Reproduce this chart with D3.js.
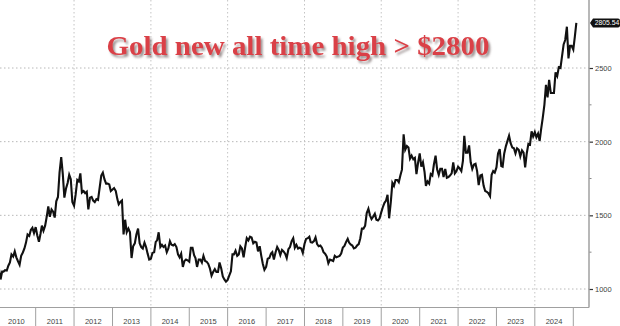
<!DOCTYPE html>
<html>
<head>
<meta charset="utf-8">
<script src="https://cdn.jsdelivr.net/npm/d3@7"></script>
<style>
  html, body { margin: 0; padding: 0; background: #fff; }
  #chart { width: 620px; height: 326px; }
</style>
</head>
<body>
<div id="chart"></div>
<script>
// Gold spot, USD/oz - one value on the 1st and the 16th of each month
const prices2010 = [1096, 1138, 1065, 1118, 1118, 1128, 1125, 1158, 1180, 1235, 1220, 1255, 1215, 1190, 1165, 1225, 1248, 1275, 1315, 1370, 1360, 1400, 1415, 1380];
const prices2011 = [1420, 1365, 1320, 1375, 1430, 1395, 1430, 1490, 1560, 1490, 1540, 1525, 1485, 1595, 1625, 1790, 1895, 1780, 1620, 1680, 1720, 1775, 1745, 1590];
const prices2012 = [1565, 1640, 1740, 1730, 1785, 1655, 1665, 1650, 1660, 1540, 1620, 1625, 1600, 1590, 1610, 1605, 1690, 1770, 1790, 1745, 1715, 1715, 1710, 1665];
const prices2013 = [1675, 1685, 1665, 1610, 1575, 1590, 1600, 1370, 1470, 1385, 1410, 1385, 1210, 1290, 1310, 1370, 1410, 1310, 1285, 1275, 1315, 1285, 1240, 1200];
const prices2014 = [1205, 1245, 1250, 1320, 1330, 1385, 1285, 1300, 1285, 1295, 1250, 1275, 1325, 1300, 1295, 1305, 1285, 1235, 1215, 1240, 1150, 1190, 1200, 1195];
const prices2015 = [1185, 1280, 1280, 1230, 1210, 1150, 1200, 1200, 1180, 1225, 1190, 1185, 1170, 1140, 1090, 1115, 1135, 1115, 1115, 1180, 1140, 1085, 1065, 1050];
const prices2016 = [1062, 1090, 1120, 1235, 1235, 1260, 1225, 1235, 1290, 1275, 1215, 1285, 1345, 1330, 1355, 1350, 1310, 1320, 1315, 1255, 1290, 1225, 1170, 1130];
const prices2017 = [1150, 1205, 1210, 1240, 1250, 1200, 1250, 1285, 1265, 1230, 1265, 1255, 1240, 1210, 1270, 1285, 1325, 1345, 1280, 1300, 1275, 1280, 1275, 1245];
const prices2018 = [1305, 1340, 1345, 1355, 1318, 1315, 1325, 1350, 1305, 1290, 1295, 1280, 1250, 1240, 1220, 1175, 1200, 1195, 1190, 1225, 1215, 1220, 1225, 1240];
const prices2019 = [1282, 1292, 1320, 1340, 1315, 1302, 1295, 1275, 1280, 1295, 1305, 1345, 1410, 1410, 1430, 1515, 1545, 1500, 1475, 1490, 1510, 1470, 1465, 1478];
const prices2020 = [1520, 1555, 1585, 1600, 1640, 1480, 1590, 1720, 1700, 1740, 1740, 1725, 1770, 1810, 2050, 1945, 1970, 1960, 1885, 1905, 1880, 1890, 1780, 1855];
const prices2021 = [1920, 1830, 1860, 1795, 1700, 1730, 1715, 1780, 1770, 1845, 1905, 1810, 1775, 1815, 1815, 1760, 1815, 1755, 1760, 1770, 1785, 1860, 1785, 1800];
const prices2022 = [1830, 1818, 1800, 1870, 2040, 1925, 1925, 1975, 1860, 1815, 1845, 1850, 1800, 1705, 1770, 1775, 1700, 1665, 1660, 1650, 1630, 1775, 1800, 1790];
const prices2023 = [1825, 1920, 1950, 1835, 1830, 1920, 1970, 2005, 2040, 1990, 1960, 1955, 1920, 1955, 1945, 1900, 1940, 1925, 1825, 1920, 1985, 1980, 2070, 2035];
const prices2024 = [2065, 2030, 2055, 2005, 2085, 2160, 2250, 2385, 2300, 2420, 2330, 2330, 2330, 2470, 2445, 2505, 2500, 2580, 2660, 2690, 2780, 2565, 2650, 2650];
const prices2025 = [2625, 2715];
const lastDate = '2025-01-30';
const lastPrice = 2805.54;

const years = [2010, 2011, 2012, 2013, 2014, 2015, 2016, 2017, 2018, 2019, 2020, 2021, 2022, 2023, 2024];
const yTicks = [1000, 1500, 2000, 2500];
const yMinorTicks = [1250, 1750, 2250];
const title = 'Gold new all time high > $2800';

const series = [prices2010, prices2011, prices2012, prices2013, prices2014, prices2015, prices2016,
  prices2017, prices2018, prices2019, prices2020, prices2021, prices2022, prices2023, prices2024, prices2025];

const data = [];
series.forEach((arr, k) => {
  arr.forEach((v, i) => {
    data.push({ date: new Date(2010 + k, Math.floor(i / 2), i % 2 ? 16 : 1), value: v });
  });
});
data.push({ date: d3.timeParse('%Y-%m-%d')(lastDate), value: lastPrice });

const width = 620;
const height = 326;
const plotRight = 589;
const plotBottom = 307.5;

const svg = d3.select('#chart')
  .append('svg')
  .attr('width', width)
  .attr('height', height)
  .style('font-family', '"Liberation Sans", Arial, sans-serif');

const defs = svg.append('defs');
const shadow = defs.append('filter').attr('id', 'shadow')
  .attr('x', '-5%').attr('y', '-30%').attr('width', '115%').attr('height', '170%');
shadow.append('feDropShadow')
  .attr('dx', 2).attr('dy', 2.5).attr('stdDeviation', 1.3)
  .attr('flood-color', '#6b5a5a').attr('flood-opacity', 0.65);

const x = d3.scaleTime()
  .domain([new Date(2010, 0, 1), new Date(2025, 0, 1)])
  .range([-2.7, 573.3]);

const y = d3.scaleLinear()
  .domain([1000, 2500])
  .range([289, 68]);

// Grid
const gridG = svg.append('g').attr('class', 'grid');
gridG.selectAll('line.h')
  .data(yTicks)
  .join('line')
  .attr('class', 'h')
  .attr('x1', 0).attr('x2', plotRight)
  .attr('y1', d => y(d)).attr('y2', d => y(d))
  .attr('stroke', '#b8b8b8').attr('stroke-width', 1)
  .attr('stroke-dasharray', '1.5,2.5');
gridG.selectAll('line.v')
  .data(years.filter(d => d % 2 === 0 && d > 2010))
  .join('line')
  .attr('class', 'v')
  .attr('x1', d => x(new Date(d, 0, 1))).attr('x2', d => x(new Date(d, 0, 1)))
  .attr('y1', 0).attr('y2', plotBottom)
  .attr('stroke', '#c4c4c4').attr('stroke-width', 1)
  .attr('stroke-dasharray', '1.5,2.5');

// Title
svg.append('text')
  .attr('x', 298)
  .attr('y', 55)
  .attr('text-anchor', 'middle')
  .attr('fill', '#da4147')
  .attr('filter', 'url(#shadow)')
  .style('font-family', '"Liberation Serif", "Times New Roman", serif')
  .style('font-weight', 'bold')
  .style('font-size', '28px')
  .attr('textLength', 383)
  .attr('lengthAdjust', 'spacingAndGlyphs')
  .text(title);

// Price line
const line = d3.line()
  .x(d => x(d.date))
  .y(d => y(d.value));

svg.append('path')
  .datum(data)
  .attr('d', line)
  .attr('fill', 'none')
  .attr('stroke', '#111')
  .attr('stroke-width', 2.1)
  .attr('stroke-linejoin', 'miter');

// Right axis
const yAxis = d3.axisRight(y)
  .tickValues(yTicks)
  .tickSize(4)
  .tickPadding(2)
  .tickFormat(d3.format('d'));

const yAxisG = svg.append('g')
  .attr('transform', `translate(${plotRight},0)`)
  .call(yAxis);
yAxisG.select('.domain').remove();
yAxisG.selectAll('.tick line').attr('stroke', '#333').attr('stroke-width', 1.2);
yAxisG.selectAll('.tick text')
  .attr('fill', '#444')
  .style('font-size', '7.5px');

yAxisG.selectAll('line.minor')
  .data(yMinorTicks)
  .join('line')
  .attr('class', 'minor')
  .attr('x1', 0).attr('x2', 2.5)
  .attr('y1', d => y(d)).attr('y2', d => y(d))
  .attr('stroke', '#888');

svg.append('line')
  .attr('x1', plotRight).attr('x2', plotRight)
  .attr('y1', 0).attr('y2', plotBottom)
  .attr('stroke', '#a0a0a0').attr('stroke-width', 1.5);

// Last value tag
const lastY = y(lastPrice);
const tag = svg.append('g').attr('transform', `translate(${plotRight + 1},${lastY})`);
tag.append('path')
  .attr('d', 'M0,0 L3,-4.5 L28,-4.5 Q30,-4.5 30,-2.5 L30,2.5 Q30,4.5 28,4.5 L3,4.5 Z')
  .attr('fill', '#111');
tag.append('text')
  .attr('x', 17)
  .attr('y', 2.4)
  .attr('text-anchor', 'middle')
  .attr('fill', '#fff')
  .style('font-size', '6.8px')
  .text(d3.format('.2f')(lastPrice));

// Bottom axis with year dividers
svg.append('line')
  .attr('x1', 0).attr('x2', plotRight)
  .attr('y1', plotBottom).attr('y2', plotBottom)
  .attr('stroke', '#a0a0a0').attr('stroke-width', 1.2);

const xAxisG = svg.append('g').attr('class', 'x-axis');
xAxisG.selectAll('line')
  .data(years.slice(1).concat([2025]))
  .join('line')
  .attr('x1', d => x(new Date(d, 0, 1))).attr('x2', d => x(new Date(d, 0, 1)))
  .attr('y1', plotBottom).attr('y2', height)
  .attr('stroke', '#a0a0a0').attr('stroke-width', 1);

xAxisG.selectAll('text')
  .data(years)
  .join('text')
  .attr('x', d => x(new Date(d, 6, 2)))
  .attr('y', 323.5)
  .attr('text-anchor', 'middle')
  .attr('fill', '#444')
  .style('font-size', '7.5px')
  .text(d => d);
</script>
</body>
</html>
